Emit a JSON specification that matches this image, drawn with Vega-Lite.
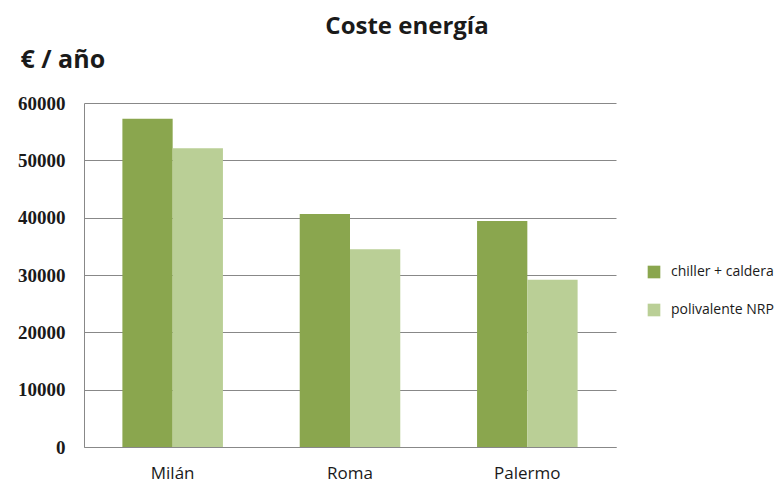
{
  "$schema": "https://vega.github.io/schema/vega-lite/v6.json",
  "width": 532,
  "height": 344,
  "autosize": {"type": "none"},
  "padding": {"left": 84, "top": 103, "right": 163, "bottom": 36},
  "background": "white",
  "title": {
    "text": "Coste energía",
    "anchor": "middle",
    "dx": 57,
    "offset": 8,
    "font": "Open Sans",
    "fontSize": 24,
    "fontWeight": "bold",
    "color": "#1a1a1a"
  },
  "data": {
    "values": [
      {"ciudad": "Milán", "sistema": "chiller + caldera", "coste": 57250},
      {"ciudad": "Milán", "sistema": "polivalente NRP", "coste": 52100},
      {"ciudad": "Roma", "sistema": "chiller + caldera", "coste": 40640},
      {"ciudad": "Roma", "sistema": "polivalente NRP", "coste": 34480},
      {"ciudad": "Palermo", "sistema": "chiller + caldera", "coste": 39420},
      {"ciudad": "Palermo", "sistema": "polivalente NRP", "coste": 29180}
    ]
  },
  "mark": {"type": "bar"},
  "encoding": {
    "x": {
      "field": "ciudad",
      "type": "nominal",
      "sort": ["Milán", "Roma", "Palermo"],
      "scale": {"paddingInner": 0.433, "paddingOuter": 0.2165},
      "axis": {
        "title": null,
        "labelAngle": 0,
        "labelFont": "Open Sans",
        "labelFontSize": 17,
        "labelColor": "#1a1a1a",
        "labelPadding": 18,
        "ticks": false,
        "domainColor": "#888888",
        "domainWidth": 1
      }
    },
    "xOffset": {
      "field": "sistema",
      "type": "nominal",
      "scale": {"paddingInner": 0}
    },
    "y": {
      "field": "coste",
      "type": "quantitative",
      "scale": {"domain": [0, 60000], "nice": false},
      "axis": {
        "values": [0, 10000, 20000, 30000, 40000, 50000, 60000],
        "format": "d",
        "title": "€ / año",
        "titleAngle": 0,
        "titleAlign": "left",
        "titleBaseline": "alphabetic",
        "titleX": -64,
        "titleY": -36,
        "titleFont": "Open Sans",
        "titleFontSize": 25,
        "titleFontWeight": "bold",
        "titleColor": "#1a1a1a",
        "labelFont": "Liberation Serif",
        "labelFontWeight": "bold",
        "labelFontSize": 19,
        "labelColor": "#1a1a1a",
        "labelPadding": 19,
        "ticks": false,
        "domainColor": "#888888",
        "gridColor": "#888888",
        "gridWidth": 1
      }
    },
    "color": {
      "field": "sistema",
      "type": "nominal",
      "scale": {"domain": ["chiller + caldera", "polivalente NRP"], "range": ["#8aa64e", "#bacf96"]},
      "legend": {
        "title": null,
        "orient": "none",
        "legendX": 563,
        "legendY": 162,
        "symbolType": "square",
        "symbolSize": 160,
        "symbolStrokeWidth": 0,
        "rowPadding": 24,
        "labelFont": "Open Sans",
        "labelFontSize": 14,
        "labelColor": "#1a1a1a",
        "labelOffset": 10
      }
    }
  },
  "config": {"view": {"stroke": null}}
}
